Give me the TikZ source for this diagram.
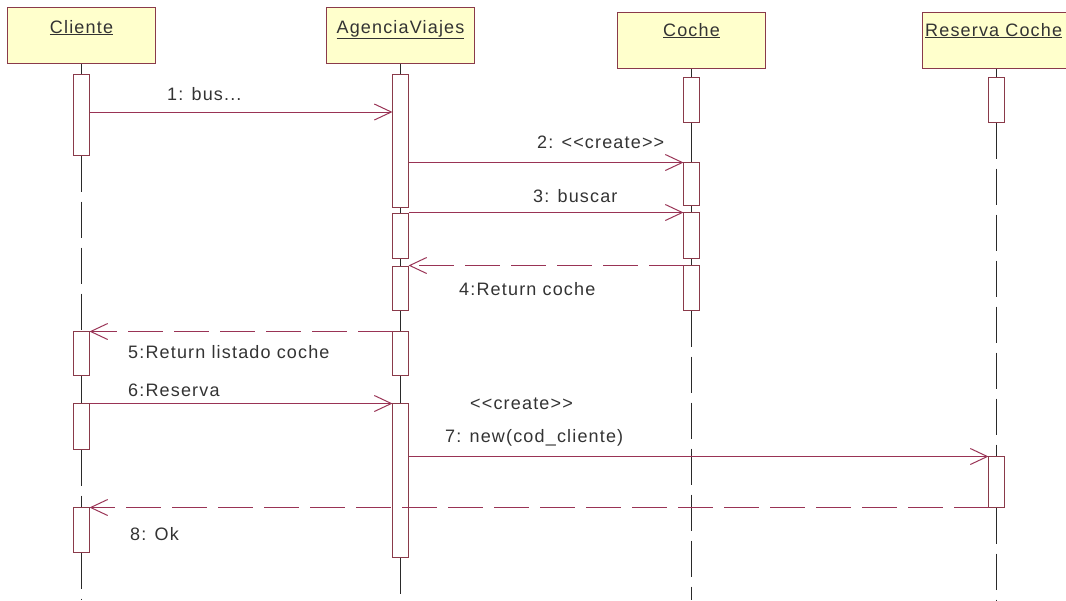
\documentclass[tikz,border=0pt]{standalone}
\usepackage{fontspec}
\setmainfont{Liberation Sans}[LetterSpace=6.5]
\usetikzlibrary{arrows.meta}
\definecolor{hdrfill}{HTML}{FFFFCC}
\definecolor{hdrline}{HTML}{8A3A4A}
\definecolor{msgc}{HTML}{993355}
\definecolor{lifec}{HTML}{2A2A2A}
\begin{document}
\begin{tikzpicture}[x=1pt,y=-1pt,
 hdr/.style={draw=hdrline, fill=hdrfill, line width=1.2pt, minimum width=148pt, minimum height=56pt, inner sep=0pt},
 bar/.style={draw=hdrline, fill=white, line width=1pt, minimum width=15pt, inner sep=0pt},
 txt/.style={font=\fontsize{18}{20}\selectfont, inner sep=0pt, text=black!80},
 msg/.style={draw=msgc, line width=1pt, -{Straight Barb[length=17pt,width=16pt]}},
 ret/.style={msg, dash pattern=on 35pt off 11pt},
 life/.style={draw=lifec, line width=1.2pt},
 lifed/.style={life, dash pattern=on 36pt off 10pt}]
\useasboundingbox (0,0) rectangle (1066,600);

% headers
\node[hdr] (cl) at (81.5,35.5) {};
\node[hdr] (ag) at (400.5,35.5) {};
\node[hdr] (co) at (691.5,40.5) {};
\node[hdr] (rc) at (996.5,40.5) {};
\node[txt, anchor=base] (clT) at (81.5,33) {\underline{Cliente}};
\node[txt, anchor=base] (agT) at (400.5,33) {\underline{AgenciaViajes}};
\node[txt, anchor=base] (coT) at (691.5,36) {\underline{Coche}};
\node[txt, anchor=base west] (rcT) at (925,36) {\underline{Reserva Coche}};

% activation bars
\node[bar, minimum height=80pt] (c1) at (81.5,115) {};
\node[bar, minimum height=43pt] (c2) at (81.5,353.5) {};
\node[bar, minimum height=45pt] (c3) at (81.5,426.5) {};
\node[bar, minimum height=44pt] (c4) at (81.5,530) {};
\node[bar, minimum height=132pt] (a1) at (400.5,141) {};
\node[bar, minimum height=44pt] (a2) at (400.5,236) {};
\node[bar, minimum height=43pt] (a3) at (400.5,288.5) {};
\node[bar, minimum height=43pt] (a4) at (400.5,353.5) {};
\node[bar, minimum height=153pt] (a5) at (400.5,480.5) {};
\node[bar, minimum height=44pt] (k1) at (691.5,100) {};
\node[bar, minimum height=42pt] (k2) at (691.5,184) {};
\node[bar, minimum height=45pt] (k3) at (691.5,235.5) {};
\node[bar, minimum height=44pt] (k4) at (691.5,288) {};
\node[bar, minimum height=44pt] (r1) at (996.5,100) {};
\node[bar, minimum height=50pt] (r2) at (996.5,482) {};

\coordinate (clE) at (81.5,600);
\coordinate (agE) at (400.5,600);
\coordinate (coE) at (691.5,600);
\coordinate (rcE) at (996.5,600);

% lifelines
\draw[life] (cl.south) -- (c1.north);
\draw[lifed] (c1.south) -- (c2.north);
\draw[life] (c2.south) -- (c3.north);
\draw[lifed] (c3.south) -- (c4.north);
\draw[lifed] (c4.south) -- (clE);
\draw[life] (ag.south) -- (a1.north);
\draw[life] (a1.south) -- (a2.north);
\draw[life] (a2.south) -- (a3.north);
\draw[life] (a3.south) -- (a4.north);
\draw[life] (a4.south) -- (a5.north);
\draw[lifed] (a5.south) -- (agE);
\draw[life] (co.south) -- (k1.north);
\draw[life] (k1.south) -- (k2.north);
\draw[life] (k2.south) -- (k3.north);
\draw[life] (k3.south) -- (k4.north);
\draw[lifed] (k4.south) -- (coE);
\draw[life] (rc.south) -- (r1.north);
\draw[lifed] (r1.south) -- (r2.north);
\draw[lifed] (r2.south) -- (rcE);

% redraw bars on top of lifelines
\foreach \b in {c1,c2,c3,c4,a1,a2,a3,a4,a5,k1,k2,k3,k4,r1,r2}
  \draw[hdrline, fill=white, line width=1pt] (\b.north west) rectangle (\b.south east);

% messages
\draw[msg] (c1.east |- 0,112) -- (a1.west |- 0,112);
\draw[msg] (a1.east |- k2.north) -- (k2.north west);
\draw[msg] (a2.east |- k3.north) -- (k3.north west);
\draw[ret] (k4.north west) -- (a3.east |- k4.north);
\draw[ret] (a4.north west) -- (c2.north east);
\draw[msg] (c3.north east) -- (a5.north west);
\draw[msg] (a5.east |- r2.north) -- (r2.north west);
\draw[ret] (r2.south west) -- (c4.east |- r2.south);

% labels
\node[txt, anchor=base west] (l1) at (167,100) {1: bus...};
\node[txt, anchor=base west] (l2) at (537,148) {2: <{}<create>{}>};
\node[txt, anchor=base west] (l3) at (533,202) {3: buscar};
\node[txt, anchor=base west] (l4) at (459,295) {4:Return coche};
\node[txt, anchor=base west] (l5) at (128,358) {5:Return listado coche};
\node[txt, anchor=base west] (l6) at (128,396) {6:Reserva};
\node[txt, anchor=base west] (l7a) at (470,409) {<{}<create>{}>};
\node[txt, anchor=base west] (l7) at (445,442) {7: new(cod\_cliente)};
\node[txt, anchor=base west] (l8) at (130,540) {8: Ok};
\end{tikzpicture}
\end{document}
